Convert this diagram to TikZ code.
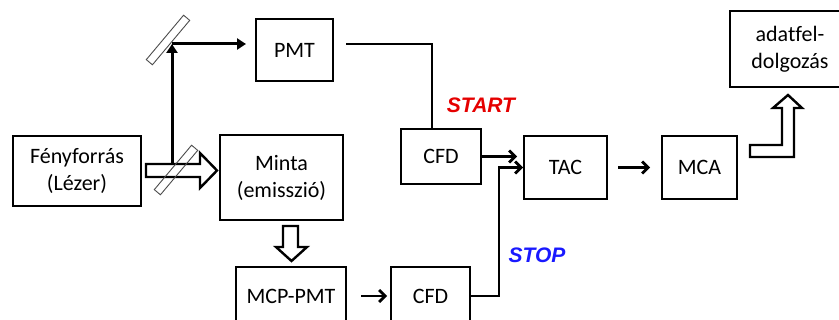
\documentclass[tikz,border=0pt]{standalone}
\usepackage{fontspec}
\setmainfont{Carlito}[Ligatures=NoCommon]
\newfontfamily\tagfont{Liberation Sans}
\usetikzlibrary{arrows.meta}

\begin{document}
\begin{tikzpicture}[x=1pt,y=-1pt,
  box/.style={draw,line width=2pt,inner sep=0pt,align=center,
    font=\fontsize{22}{27}\selectfont},
  beam/.style={line width=3pt,-{Triangle[length=9pt,width=11pt]}},
  sig/.style={line width=2.8pt,-{Straight Barb[length=6pt,width=12pt]}},
  wire/.style={line width=2.6pt},
  hollow/.style={draw,fill=white,line width=2.4pt,line join=miter},
  mirror/.style={draw=black!70,line width=0.9pt,minimum width=58pt,
    minimum height=8pt,inner sep=0pt,rotate=50},
  tag/.style={font=\tagfont\bfseries\itshape\fontsize{21}{21}\selectfont}]
  % Boundary
  \path[use as bounding box] (0,0) rectangle (839,320);
  % Blocks
  \node[box,line width=2.8pt,minimum width=128pt,minimum height=70pt] (src) at (77,171) {Fényforrás\\(Lézer)};
  \node[box,minimum width=123pt,minimum height=85pt] (minta) at (281.5,177.5) {Minta\\(emisszió)};
  \node[box,minimum width=77pt,minimum height=62pt] (pmt) at (294.5,50) {PMT};
  \node[box,minimum width=110pt,minimum height=58pt] (mcp) at (291,296) {MCP-PMT};
  \node[box,minimum width=80pt,minimum height=55pt] (cfda) at (441,156.5) {CFD};
  \node[box,minimum width=79pt,minimum height=58pt] (cfdb) at (430.5,296) {CFD};
  \node[box,minimum width=83pt,minimum height=63pt] (tac) at (565.5,167.5) {TAC};
  \node[box,minimum width=75pt,minimum height=63pt] (mca) at (699.5,167.5) {MCA};
  \node[box,line width=2.8pt,minimum width=120pt,minimum height=76pt] (adat) at (790,49) {adatfel-\\dolgozás};
  % Light path
  \coordinate (split) at (172,163);
  \coordinate (turn) at (172,44);
  \draw[beam] (split) -- (turn);
  \draw[beam] (turn) -- ([xshift=-9pt,yshift=6pt]pmt.west);
  \draw[hollow] (146,164) -- (200,164) -- (200,153) -- (217,170.5) -- (200,188)
    -- (200,177) -- (146,177) -- cycle;
  \draw[hollow] (283,226) -- (298,226) -- (298,247) -- (307,247) -- (291.5,261)
    -- (276,247) -- (283,247) -- cycle;
  \draw[hollow] (750,145) -- (782,145) -- (782,108) -- (773,108) -- (788,95)
    -- (802,108) -- (794,108) -- (794,157) -- (750,157) -- cycle;
  % Beam splitters
  \node[mirror] (mirrorlo) at (176,170) {};
  \node[mirror] (mirrorhi) at (168,40) {};
  % Timing electronics
  \draw[wire] ([xshift=12pt,yshift=6pt]pmt.east) -| ([xshift=-9pt]cfda.north);
  \draw[sig] (cfda.east) -- ([xshift=-6pt]cfda.east -| tac.west);
  \draw[sig] (cfdb.east) -- ++(28,0) |- (tac.west);
  \draw[sig] ([xshift=14pt]mcp.east) -- ([xshift=-3pt]cfdb.west);
  \draw[sig] ([xshift=10pt]tac.east) -- ([xshift=-11pt]mca.west);
  % Labels
  \node[tag,text=red!90!black] (start) at (481,105) {START};
  \node[tag,text=blue!90] (stop) at (537,255) {STOP};
\end{tikzpicture}
\end{document}
